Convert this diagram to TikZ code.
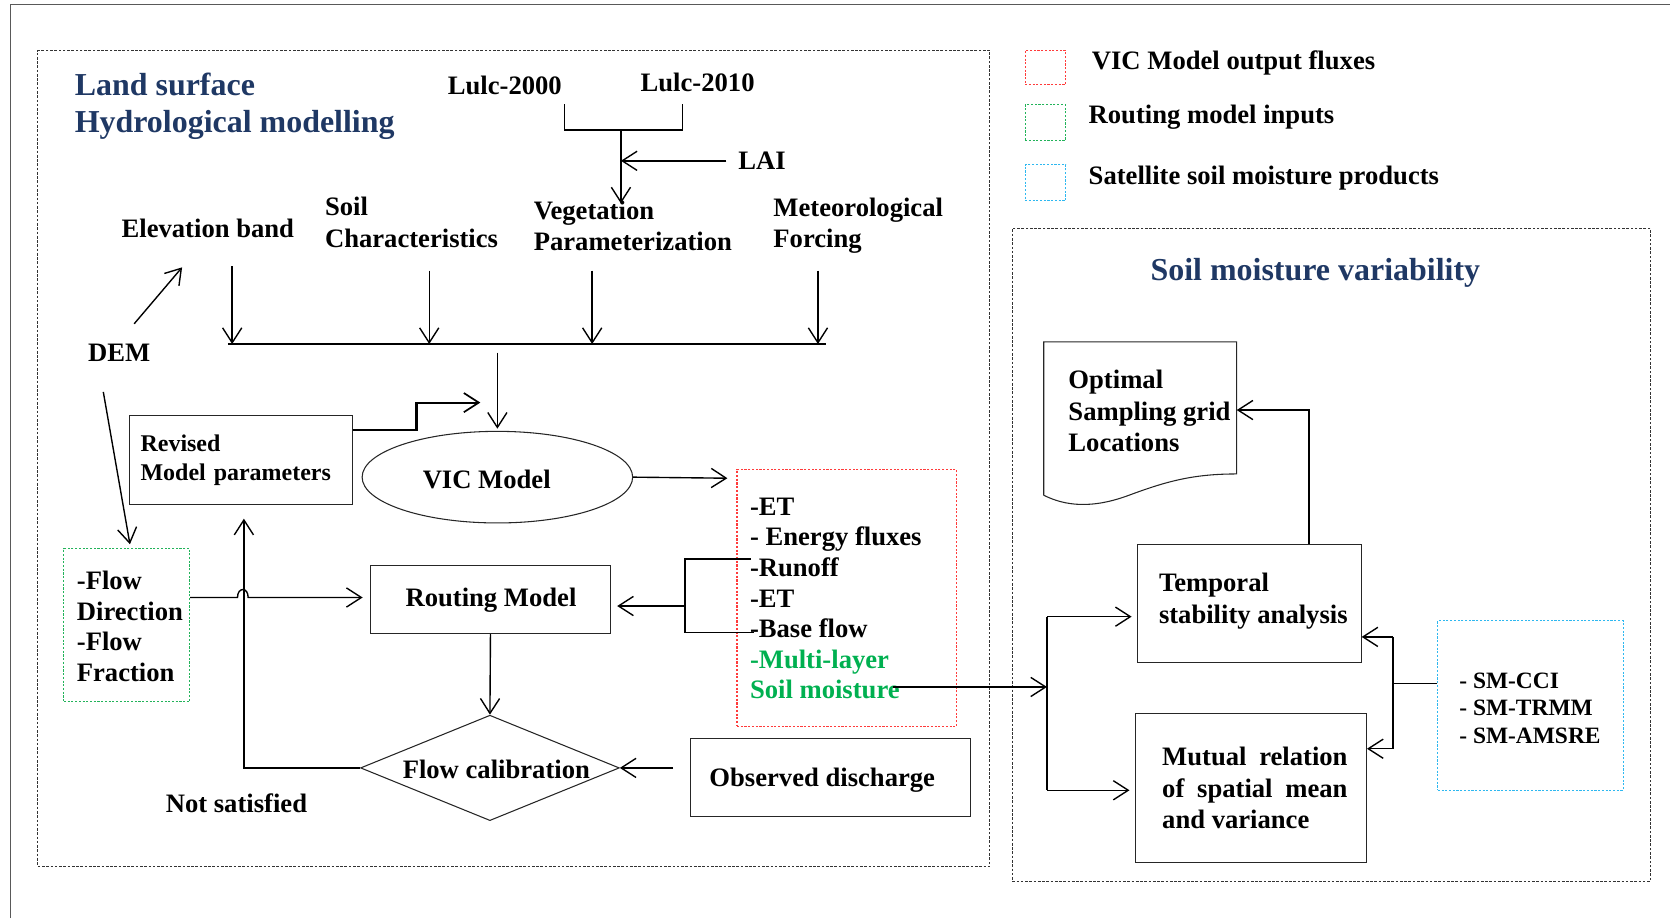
\documentclass[tikz,border=0pt]{standalone}
\usepackage{fontspec}
\setmainfont{Liberation Serif}
\usetikzlibrary{arrows.meta,shapes.geometric}
\definecolor{navy}{HTML}{1F3864}
\definecolor{redd}{HTML}{FF3B3B}
\definecolor{greend}{HTML}{22B35A}
\definecolor{blued}{HTML}{2EB8F0}
\definecolor{smgreen}{HTML}{00B050}
\tikzset{
  txt/.style={font=\bfseries\fontsize{25}{29.5}\selectfont, inner sep=0pt, align=left},
  stxt/.style={font=\bfseries\fontsize{22.5}{27}\selectfont, inner sep=0pt, align=left},
  ttl/.style={font=\bfseries\fontsize{30}{35}\selectfont, text=navy, inner sep=0pt, align=left},
  boxn/.style={draw=black!85, line width=1pt, inner sep=0pt},
  conn/.style={line width=1.3pt, -{Straight Barb[length=14pt,width=18pt,line width=1.3pt]}},
  plainln/.style={line width=1.3pt},
  bigframe/.style={draw=black!80, line width=0.9pt, dash pattern=on 2.5pt off 1.5pt, inner sep=0pt},
  redbox/.style={draw=redd, line width=1pt, dash pattern=on 2pt off 1.5pt, inner sep=0pt},
  greenbox/.style={draw=greend, line width=1pt, dash pattern=on 2pt off 1.5pt, inner sep=0pt},
  bluebox/.style={draw=blued, line width=1pt, dash pattern=on 2pt off 1.5pt, inner sep=0pt},
}
\begin{document}
\begin{tikzpicture}[x=1pt,y=-1pt]
\useasboundingbox (0,0) rectangle (1568,862);
% outer frame
\draw[black!65, line width=1pt] (10,862) -- (10,4) -- (1568,4);
% big dashed frames
\node[bigframe, anchor=north west, minimum width=894pt, minimum height=766pt] (lsbox) at (35,47) {};
\node[bigframe, anchor=north west, minimum width=599pt, minimum height=613pt] (smbox) at (950,214) {};
% legend
\node[redbox, anchor=north west, minimum width=38pt, minimum height=32pt] (lg1) at (962,47) {};
\node[greenbox, anchor=north west, minimum width=38pt, minimum height=33pt] (lg2) at (962,98) {};
\node[bluebox, anchor=north west, minimum width=38pt, minimum height=34pt] (lg3) at (962,154) {};
\node[txt, anchor=west] (lt1) at (1025,59) {VIC Model output fluxes};
\node[txt, anchor=west] (lt2) at (1022,110) {Routing model inputs};
\node[txt, anchor=west] (lt3) at (1022,167) {Satellite soil moisture products};
% titles
\node[ttl, anchor=west] (t1) at (70,100) {Land surface\\Hydrological modelling};
\node[ttl] (t2) at (1235,256) {Soil moisture variability};
% top inputs
\node[txt] (lulc0) at (474,80) {Lulc-2000};
\node[txt] (lulc1) at (655,77) {Lulc-2010};
\node[txt, anchor=west] (lai) at (693,151) {LAI};
\node[txt, anchor=west] (elev) at (114,214) {Elevation band};
\node[txt, anchor=west] (soil) at (305,209) {Soil\\Characteristics};
\node[txt, anchor=west] (veg) at (501,212) {Vegetation\\Parameterization};
\node[txt, anchor=west] (met) at (726,212) {Meteorological\\Forcing};
\node[txt] (dem) at (112,331) {DEM};
% bracket Lulc
\coordinate (b1) at (530,98);
\coordinate (b2) at (641,98);
\coordinate (bj) at (583,122);
\coordinate (vegin) at (583,191);
\draw[plainln] (b1) |- (bj) -| (b2);
\draw[conn] (bj) -- (vegin);
\draw[conn] ([xshift=-11pt]lai.west) -- (bj |- lai.west);
% collector
\coordinate (busL) at (214,323);
\coordinate (busR) at (776,323);
\coordinate (a1) at (218,250);
\coordinate (a2) at (403,254);
\coordinate (a3) at (556,254);
\coordinate (a4) at (768,254);
\coordinate (busdown) at (467,331);
\draw[line width=1.6pt] (busL) -- (busR);
\draw[conn] (a1) -- (a1 |- busL);
\draw[conn] (a2) -- (a2 |- busL);
\draw[conn] (a3) -- (a3 |- busL);
\draw[conn] (a4) -- (a4 |- busL);
% DEM arrows
\coordinate (d1) at (126,304);
\coordinate (d2) at (171,251);
\coordinate (d3) at (97,368);
\coordinate (d4) at (122,511);
\draw[conn] (d1) -- (d2);
\draw[conn] (d3) -- (d4);
% boxes
\node[boxn, minimum width=209pt, minimum height=84pt, text width=189pt, inner xsep=10pt, stxt] (rev) at (226.5,432) {Revised\\Model parameters};
\node[draw=black!85, line width=1pt, ellipse, minimum width=254pt, minimum height=86pt, inner sep=0pt] (vic) at (467,448) {};
\node[txt] (victxt) at (457,450) {VIC Model};
\node[redbox, minimum width=206pt, minimum height=241pt] (out) at (795,561.5) {};
\node[font=\bfseries\fontsize{25}{28.7}\selectfont, inner sep=0pt, align=left, anchor=west] (outtxt) at (704,562) {-ET\\- Energy fluxes\\-Runoff\\-ET\\-Base flow\\\textcolor{smgreen}{-Multi-layer}\\\textcolor{smgreen}{Soil moisture}};
\node[boxn, minimum width=225pt, minimum height=64pt, txt] (route) at (460.5,563) {};
\node[txt] (routetxt) at (461,564) {Routing Model};
\node[greenbox, minimum width=118pt, minimum height=144pt] (flow) at (119,587) {};
\node[font=\bfseries\fontsize{25}{28.7}\selectfont, inner sep=0pt, align=left, anchor=west] (flowtxt) at (72,588) {-Flow\\Direction\\-Flow\\Fraction};
\node[draw=black!85, line width=1pt, diamond, aspect=2.45, minimum width=243pt, minimum height=99pt, inner sep=0pt] (cal) at (460,721) {};
\node[txt] (caltxt) at (466,722) {Flow calibration};
\node[boxn, minimum width=263pt, minimum height=74pt] (obs) at (779.5,730) {};
\node[txt] (obstxt) at (772,733) {Observed discharge};
\node[txt] (ns) at (222,754) {Not satisfied};
% connectors left part
\coordinate (rv1) at (391,378);
\coordinate (rvend) at (451,378);
\draw[line width=2pt, -{Straight Barb[length=14pt,width=18pt,line width=1.6pt]}] ([yshift=28pt]rev.east) -| (rv1) -- (rvend);
\draw[conn] (busdown) -- ([yshift=2pt]vic.north);
\coordinate (vicout) at (683,449);
\draw[conn] (vic.east) -- (vicout);
\coordinate (rb1) at (705,525);
\coordinate (rb2) at (643,525);
\coordinate (rb3) at (643,594);
\coordinate (rb4) at (708,594);
\coordinate (rbm) at (643,569);
\draw[plainln] (rb1) -- (rb2) -- (rb3) -- (rb4);
\draw[conn, shorten >=6pt] (rbm) -- (rbm -| route.east);
\coordinate (h1) at (223,561);
\coordinate (h2) at (233,561);
\draw[conn, shorten >=7pt] (flow.east |- h1) -- (h1) .. controls (223,551) and (233,551) .. (h2) -- (route.west |- h1);
\draw[conn] (route.south) -- (cal.north);
\coordinate (oa) at (632,721);
\draw[conn] (oa) -- (cal.east);
\coordinate (nsend) at (229,487);
\draw[line width=1.5pt, -{Straight Barb[length=14pt,width=18pt,line width=1.3pt]}] (cal.west) -| (nsend);
% right part
\coordinate (smstart) at (838,645);
\coordinate (sp1) at (983,579);
\coordinate (sp2) at (983,742);
\node[boxn, minimum width=210pt, minimum height=111pt] (temp) at (1173,566.5) {};
\node[txt, anchor=west] (temptxt) at (1088,564.5) {Temporal\\stability analysis};
\node[boxn, minimum width=217pt, minimum height=140pt] (mut) at (1174.5,740) {};
\node[txt, anchor=west] (muttxt) at (1091,740) {\makebox[174pt][s]{Mutual relation}\\\makebox[174pt][s]{of spatial mean}\\and variance};
\draw[line width=1.6pt, -{Straight Barb[length=14pt,width=18pt,line width=1.3pt]}] (smstart) -- (smstart -| sp1);
\draw[plainln] (sp1) -- (sp2);
\draw[conn, shorten >=5pt] (sp1) -- (sp1 -| temp.west);
\draw[conn, shorten >=5pt] (sp2) -- (sp2 -| mut.west);
% document shape
\node[inner sep=0pt, minimum width=181pt, minimum height=124pt] (opt) at (1070.5,383) {};
\draw[black!85, line width=1pt] (980,465) -- (980,321) -- (1161,321) -- (1161,445)
  .. controls (1120,445) and (1095,452) .. (1060,465)
  .. controls (1025,478) and (1000,475) .. (980,465);
\node[txt, anchor=west] (opttxt) at (1003,386) {Optimal\\Sampling grid\\Locations};
\coordinate (to1) at (1229,385);
\draw[conn] (temp.north -| to1) -- (to1) -- (to1 -| opt.east);
% SM box
\node[bluebox, minimum width=174pt, minimum height=159pt] (sm) at (1437,662.5) {};
\node[font=\bfseries\fontsize{22}{26}\selectfont, inner sep=0pt, align=left, anchor=west] (smtxt) at (1370,665) {- SM-CCI\\- SM-TRMM\\- SM-AMSRE};
\coordinate (smj) at (1308,642);
\coordinate (sv1) at (1308,598);
\coordinate (sv2) at (1308,703);
\draw[plainln] (sm.west |- smj) -- (smj);
\draw[plainln] (sv1) -- (sv2);
\draw[conn] (sv1) -- (sv1 -| temp.east);
\draw[conn] (sv2) -- (sv2 -| mut.east);
\end{tikzpicture}
\end{document}
